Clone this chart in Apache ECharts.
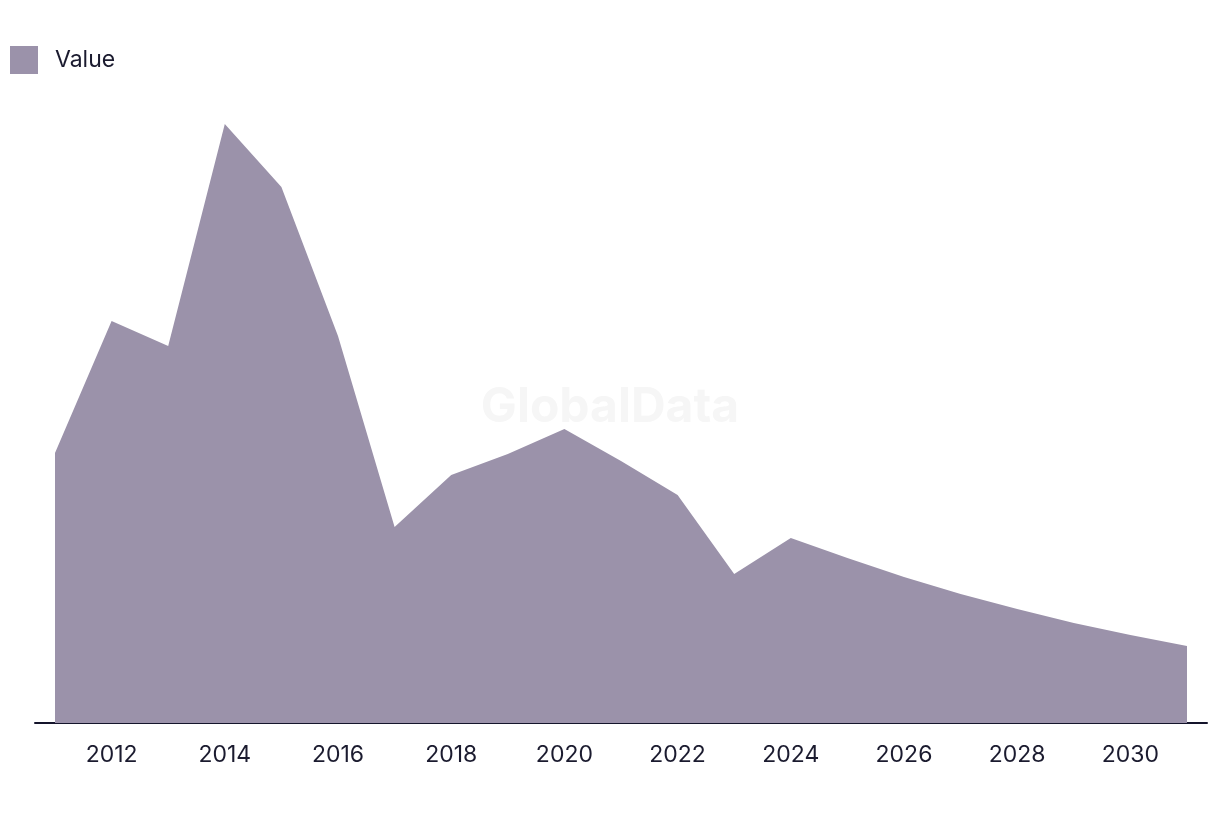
<!DOCTYPE html>
<html>
<head>
<meta charset="utf-8">
<script src="https://cdn.jsdelivr.net/npm/echarts@6/dist/echarts.min.js"></script>
<style>
html,body{margin:0;padding:0;background:#fff;}
#chart{width:1220px;height:814px;}
</style>
</head>
<body>
<div id="chart"></div>
<script>
const years = [2011,2012,2013,2014,2015,2016,2017,2018,2019,2020,2021,2022,2023,2024,2025,2026,2027,2028,2029,2030,2031];
const values = [270,402,377,599,536,387,196,248,269,294,262,228,149,185,165,146,129,114,100,88,77];
const tickLabels = [2012,2014,2016,2018,2020,2022,2024,2026,2028,2030];
const seriesName = 'Value';

const chart = echarts.init(document.getElementById('chart'));
const pad = 20/56.6;
chart.setOption({
  animation:false,
  backgroundColor:'#ffffff',
  textStyle:{fontFamily:'Inter'},
  legend:{
    left:10, top:46, padding:0, itemWidth:28, itemHeight:28, icon:'rect',
    data:[seriesName],
    textStyle:{fontSize:23, color:'#1b1b2f', fontFamily:'Inter', padding:[0,0,0,12]}
  },
  graphic:[{
    type:'text', left:'center', top:384,
    style:{text:'GlobalData', fontSize:48, fontWeight:'bold', fill:'#f6f6f6', fontFamily:'Inter'},
    z:100
  }],
  grid:{left:35, right:13, top:70, bottom:91, containLabel:false},
  xAxis:{
    type:'value',
    min: years[0]-pad, max: years[years.length-1]+pad,
    axisLine:{show:true, lineStyle:{color:'#14142b', width:2}},
    axisTick:{show:false},
    splitLine:{show:false},
    axisLabel:{customValues:tickLabels, formatter:v=>String(v), fontSize:23, color:'#1b1b2f', margin:21, fontFamily:'Inter'}
  },
  yAxis:{
    type:'value', min:0, max:653,
    show:false, splitLine:{show:false}
  },
  series:[{
    name:seriesName, type:'line',
    data: years.map((y,i)=>[y, values[i]]),
    symbol:'none',
    lineStyle:{width:0},
    itemStyle:{color:'#9b92aa'},
    areaStyle:{color:'#9b92aa', opacity:1}
  }]
});
</script>
</body>
</html>
